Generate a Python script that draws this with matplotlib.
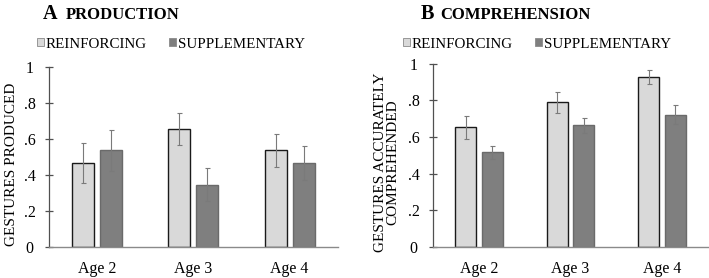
import numpy as np
import matplotlib
matplotlib.use('Agg')
import matplotlib.pyplot as plt

plt.rcParams['font.family'] = ['Liberation Serif', 'DejaVu Serif']

ages = ['Age 2', 'Age 3', 'Age 4']
yticks = [0, 0.2, 0.4, 0.6, 0.8, 1]
ytick_labels = ['0', '.2', '.4', '.6', '.8', '1']

# panel A: production
prod_reinf = [0.465, 0.655, 0.535]
prod_reinf_err = [0.112, 0.09, 0.09]
prod_supp = [0.535, 0.345, 0.465]
prod_supp_err = [0.113, 0.09, 0.093]

# panel B: comprehension
comp_reinf = [0.652, 0.789, 0.926]
comp_reinf_err = [0.063, 0.058, 0.037]
comp_supp = [0.516, 0.663, 0.721]
comp_supp_err = [0.036, 0.04, 0.052]

light, dark = '#d9d9d9', '#7f7f7f'
W, H = 709, 278

fig = plt.figure(figsize=(W/100, H/100), dpi=100)
axA = fig.add_axes([49/W, 1-246.7/H, 288.7/W, 180/H])
axB = fig.add_axes([433.3/W, 1-246.7/H, 274.5/W, 183/H])

def draw(ax, reinf, reinf_err, supp, supp_err, ylabel, ylab_x):
    x = np.arange(len(ages))
    w, off = 0.228, 0.145
    ekw = dict(ecolor='#7a7a7a', elinewidth=0.8, capsize=1.8, capthick=0.8)
    b1 = ax.bar(x-off, reinf, w, yerr=reinf_err, color=light, edgecolor='#1a1a1a',
                linewidth=1.0, error_kw=ekw, label='REINFORCING')
    b2 = ax.bar(x+off, supp, w, yerr=supp_err, color=dark, edgecolor='#6a6a6a',
                linewidth=1.0, error_kw=ekw, label='SUPPLEMENTARY')
    ax.set_xlim(-0.5, 2.5)
    ax.set_ylim(0, 1)
    ax.set_xticks(x)
    ax.set_xticklabels(ages, fontsize=11.5)
    ax.set_yticks(yticks)
    ax.set_yticklabels(ytick_labels, fontsize=11.5, ha='center')
    ax.tick_params(axis='x', length=0, pad=10.5)
    ax.tick_params(axis='y', direction='inout', length=6, width=0.9, color='#505050', pad=11)
    for s in ['top', 'right']:
        ax.spines[s].set_visible(False)
    ax.spines['left'].set_color('#505050')
    ax.spines['left'].set_linewidth(0.9)
    ax.spines['bottom'].set_color('#8a8a8a')
    ax.spines['bottom'].set_linewidth(1.0)
    ax.set_ylabel(ylabel, fontsize=11, linespacing=0.95)
    ax.yaxis.set_label_coords(ylab_x, 0.46)
    return b1, b2

hA = draw(axA, prod_reinf, prod_reinf_err, prod_supp, prod_supp_err,
          'GESTURES PRODUCED', -0.108)
hB = draw(axB, comp_reinf, comp_reinf_err, comp_supp, comp_supp_err,
          'GESTURES ACCURATELY\nCOMPREHENDED', -0.124)

for handles, x0 in [(hA, 37), (hB, 403)]:
    fig.legend(handles, ['REINFORCING', 'SUPPLEMENTARY'], ncol=2, frameon=False,
               loc='center left', bbox_to_anchor=(x0/W, 1-44/H), fontsize=10.8,
               handlelength=0.46, handleheight=0.46, handletextpad=0.12,
               columnspacing=1.5, borderpad=0, borderaxespad=0)
for leg in fig.legends:
    for p in leg.get_patches():
        p.set_linewidth(0.6)
        p.set_edgecolor('#8a8a8a')

fig.text(43/W, 1-19/H, 'A', fontsize=14.5, fontweight='bold', va='baseline')
fig.text(66/W, 1-19/H, 'PRODUCTION', fontsize=12, fontweight='bold', va='baseline')
fig.text(421/W, 1-19/H, 'B', fontsize=14.5, fontweight='bold', va='baseline')
fig.text(440/W, 1-19/H, 'COMPREHENSION', fontsize=12, fontweight='bold', va='baseline')

fig.savefig('out.png', dpi=100)
